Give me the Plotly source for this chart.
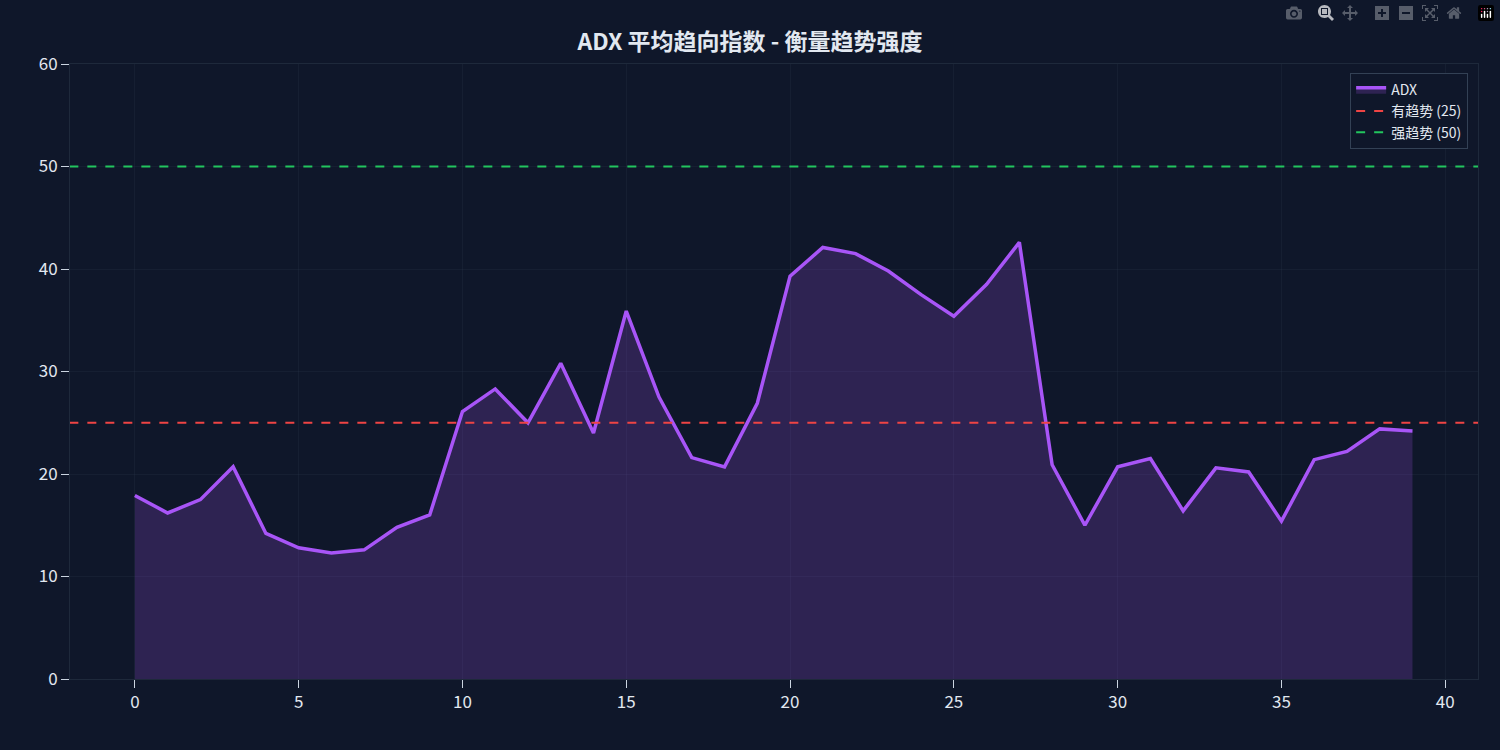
import plotly.graph_objects as go

x_vals = list(range(40))
adx = [17.9, 16.2, 17.5, 20.7, 14.2, 12.8, 12.3, 12.6, 14.8, 16.0,
       26.1, 28.3, 25.0, 30.8, 24.0, 35.9, 27.5, 21.6, 20.7, 26.9,
       39.3, 42.1, 41.5, 39.8, 37.5, 35.4, 38.5, 42.6, 20.9, 15.0,
       20.7, 21.5, 16.4, 20.6, 20.2, 15.4, 21.4, 22.2, 24.4, 24.2]
trend_level = 25
strong_level = 50

bg = "#0f172a"
font = "Noto Sans CJK SC"
fig = go.Figure()
fig.add_trace(go.Scatter(x=x_vals, y=adx, mode="lines", name="ADX",
                         line=dict(color="#a855f7", width=3.5),
                         fill="tozeroy", fillcolor="rgba(168,85,247,0.2)"))
fig.add_trace(go.Scatter(x=[-2, 41], y=[trend_level]*2, mode="lines", name="有趋势 (25)",
                         line=dict(color="#ef4444", width=2, dash="dash")))
fig.add_trace(go.Scatter(x=[-2, 41], y=[strong_level]*2, mode="lines", name="强趋势 (50)",
                         line=dict(color="#22c55e", width=2, dash="dash")))
axis = dict(showline=True, linecolor="#1e293b", mirror=True, gridcolor="rgba(51,65,85,0.2)",
            zeroline=False, ticks="outside", tickcolor="#cbd5e1", ticklen=8,
            tickfont=dict(color="#e2e8f0", size=17))
fig.update_layout(
    width=1500, height=750, paper_bgcolor=bg, plot_bgcolor=bg,
    font=dict(family=font, color="#e2e8f0"),
    title=dict(text="<b>ADX 平均趋向指数 - 衡量趋势强度</b>", x=0.5, y=0.955,
               font=dict(size=23, color="#e2e8f0")),
    margin=dict(l=70, r=22, t=64, b=71),
    xaxis=dict(range=[-1.98, 41.0], tickvals=list(range(0, 41, 5)), **axis),
    yaxis=dict(range=[0, 60], tickvals=list(range(0, 61, 10)), **axis),
    legend=dict(x=0.993, y=0.985, xanchor="right", yanchor="top",
                bgcolor=bg, bordercolor="#334155", borderwidth=1,
                font=dict(size=14, color="#e2e8f0")),
    showlegend=True,
)
fig.write_html("out.html")
with open("out.html", encoding="utf-8") as f:
    html = f.read()
html = html.replace("<head>", "<head><style>html,body{margin:0;padding:0;background:#0f172a;}</style>", 1)
with open("out.html", "w", encoding="utf-8") as f:
    f.write(html)
